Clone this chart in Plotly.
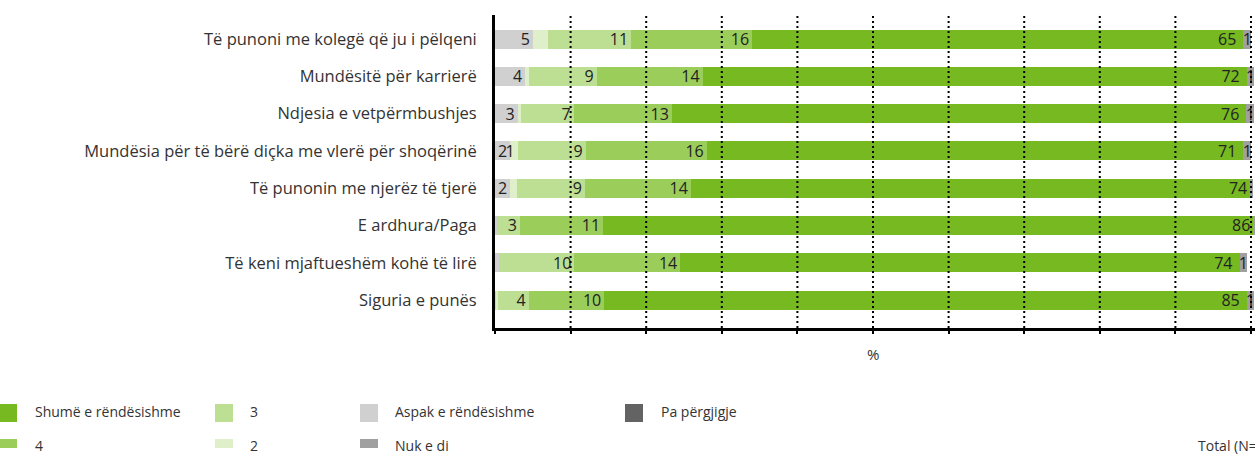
import plotly.graph_objects as go

# Survey categories (top to bottom)
categories = [
    "Të punoni me kolegë që ju i pëlqeni",
    "Mundësitë për karrierë",
    "Ndjesia e vetpërmbushjes",
    "Mundësia për të bërë diçka me vlerë për shoqërinë",
    "Të punonin me njerëz të tjerë",
    "E ardhura/Paga",
    "Të keni mjaftueshëm kohë të lirë",
    "Siguria e punës",
]

# Shares in percent per answer option
aspak = [5, 4, 3, 2, 2, 0.3, 0.5, 0.2]
dy = [2, 0.45, 0.4, 1, 0.9, 0, 0, 0.25]
tre = [11, 9, 7, 9, 9, 3, 10, 4]
kater = [16, 14, 13, 16, 14, 11, 14, 10]
shume = [65, 72, 76, 71, 74, 86, 74, 85]
nuk_e_di = [1, 1, 1, 1, 0.3, 0.15, 1, 1]
pa_pergjigje = [0, 0, 0, 0, 0, 0, 0, 0]

# Which segments carry a value label
aspak_lbl = [1, 1, 1, 1, 1, 0, 0, 0]
dy_lbl = [0, 0, 0, 1, 0, 0, 0, 0]
tre_lbl = [1] * 8
kater_lbl = [1] * 8
shume_lbl = [1] * 8
nuk_lbl = [1, 1, 1, 1, 0, 0, 1, 1]
pa_lbl = [0] * 8

series = [
    ("Aspak e rëndësishme", aspak, aspak_lbl, "#d0d0d0"),
    ("2", dy, dy_lbl, "#deefc9"),
    ("3", tre, tre_lbl, "#bcdf94"),
    ("4", kater, kater_lbl, "#9bcd5b"),
    ("Shumë e rëndësishme", shume, shume_lbl, "#76b921"),
    ("Nuk e di", nuk_e_di, nuk_lbl, "#a0a0a0"),
    ("Pa përgjigje", pa_pergjigje, pa_lbl, "#636363"),
]

FONT = "Open Sans"
TXT = "#333333"
NBSP = "\u00a0"

W, H = 1255, 454
L, R, T, B = 495, 0, 15, 126
PW, PH = W - L - R, H - T - B
PX_PER_PCT = 7.56  # horizontal scale of the value axis
X_MAX = PW / PX_PER_PCT


def px(x):
    return (x - L) / PW


def py(y):
    return (H - B - y) / PH


def labels(vals, show, pad=None):
    out = []
    for i, (v, s) in enumerate(zip(vals, show)):
        t = f"{v:g}" if s else ""
        if t and pad is not None and pad[i]:
            t += NBSP
        out.append(t)
    return out


fig = go.Figure()
for name, vals, show, color in series:
    is_main = name == "Shumë e rëndësishme"
    is_small_end = name in ("Nuk e di", "Pa përgjigje")
    fig.add_trace(go.Bar(
        y=categories, x=vals, name=name, orientation="h",
        marker=dict(color=color, line=dict(width=0)),
        # keep the large segment's label clear of the neighbouring "1"
        text=labels(vals, show, nuk_lbl if is_main else None),
        textposition="inside",
        insidetextanchor="middle" if is_small_end else "end",
        textangle=0, constraintext="none", cliponaxis=False,
        textfont=dict(family=FONT, size=16, color="#222222"),
        width=0.51, showlegend=False, hoverinfo="x+name",
    ))

# dotted reference lines drawn over the bars
shapes = []
for g in range(10, 101, 10):
    shapes.append(dict(type="line", xref="x", yref="paper", x0=g, x1=g, y0=0, y1=1,
                       line=dict(color="#000000", width=2, dash="2px,3px"), layer="above"))

# legend laid out in columns: (label, colour, swatch x, text x, text y, swatch top, swatch bottom)
legend_items = [
    ("Shumë e rëndësishme", "#76b921", -1, 33, 411, 404, 422),
    ("4", "#9bcd5b", -1, 33, 445, 439, 448),
    ("3", "#bcdf94", 215, 248, 411, 404, 422),
    ("2", "#deefc9", 215, 248, 445, 439, 448),
    ("Aspak e rëndësishme", "#d0d0d0", 360, 393, 411, 404, 422),
    ("Nuk e di", "#a0a0a0", 360, 393, 445, 439, 448),
    ("Pa përgjigje", "#636363", 625, 659, 411, 404, 422),
]
annotations = []
for label, color, sx, tx, ty, st, sb in legend_items:
    shapes.append(dict(type="rect", xref="paper", yref="paper",
                       x0=px(sx), x1=px(sx + 18), y0=py(sb), y1=py(st),
                       fillcolor=color, line=dict(width=0), layer="above"))
    annotations.append(dict(text=label, xref="paper", yref="paper", x=px(tx), y=py(ty),
                            xanchor="left", yanchor="middle", showarrow=False,
                            font=dict(family=FONT, size=14, color=TXT)))

annotations.append(dict(text="%", xref="x", yref="paper", x=50, y=py(354),
                        xanchor="center", yanchor="middle", showarrow=False,
                        font=dict(family=FONT, size=15, color=TXT)))
annotations.append(dict(text="Total (N=1200)", xref="paper", yref="paper", x=px(1196), y=py(445),
                        xanchor="left", yanchor="middle", showarrow=False,
                        font=dict(family=FONT, size=14, color=TXT)))

fig.update_layout(
    width=W, height=H, barmode="stack",
    margin=dict(l=L, r=R, t=T, b=B, autoexpand=False),
    paper_bgcolor="white", plot_bgcolor="white",
    font=dict(family=FONT, color=TXT),
    shapes=shapes, annotations=annotations,
    xaxis=dict(range=[0, X_MAX], tick0=0, dtick=10, showgrid=False, zeroline=False,
               showticklabels=False, ticks="outside", ticklen=3, tickwidth=2,
               tickcolor="#000000", showline=True, linewidth=3, linecolor="#000000"),
    yaxis=dict(categoryorder="array", categoryarray=categories,
               range=[7.75, -0.644], showgrid=False, zeroline=False,
               showline=True, linewidth=3, linecolor="#000000",
               ticks="", ticklabelstandoff=12,
               tickfont=dict(family=FONT, size=16.5, color=TXT)),
)

fig.write_html("out.html")
